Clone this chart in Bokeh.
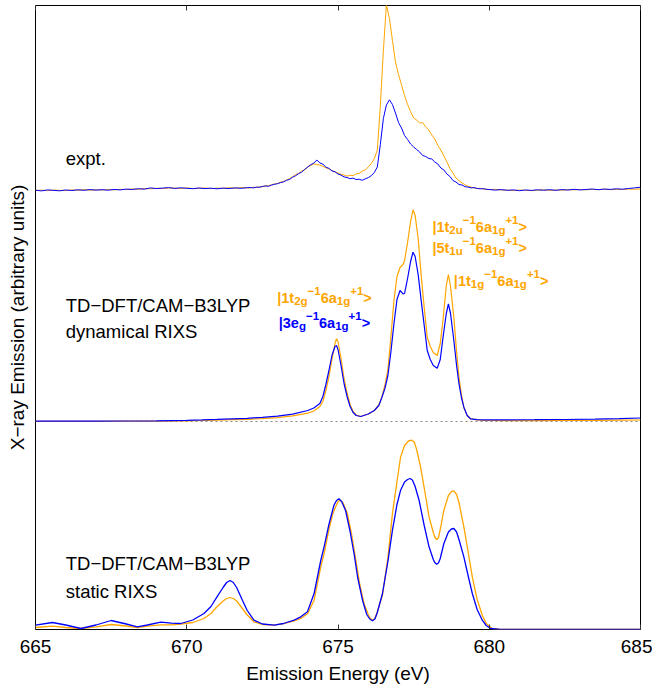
from bokeh.plotting import figure
from bokeh.models import Range1d, LinearAxis, FixedTicker, Span, Label
from bokeh.embed import file_html
from bokeh.resources import INLINE

# ---------------- data ----------------
x_ticks = [665, 670, 675, 680, 685]

# experimental spectra (intensity above the panel baseline, arbitrary units)
expt_energy_left = [665.0, 665.2, 665.4, 665.6, 665.8, 666.0, 666.2, 666.4, 666.6, 666.8,
                    667.0, 667.2, 667.4, 667.6, 667.8, 668.0, 668.2, 668.4, 668.6, 668.8,
                    669.0, 669.2, 669.4, 669.6, 669.8, 670.0, 670.2, 670.4, 670.6, 670.8,
                    671.0, 671.2, 671.4, 671.6, 671.8, 672.0]
expt_energy_mid = [672.1, 672.2, 672.3, 672.4, 672.5, 672.6, 672.7, 672.8, 672.9,
                   673.0, 673.1, 673.2, 673.3, 673.4, 673.5, 673.6, 673.7, 673.8, 673.9,
                   674.0, 674.1, 674.2, 674.3, 674.4, 674.5, 674.6, 674.7, 674.8, 674.9,
                   675.0, 675.1, 675.2, 675.3, 675.4, 675.5, 675.6, 675.7, 675.8, 675.9,
                   676.0, 676.1, 676.2, 676.3, 676.4, 676.5, 676.6, 676.7, 676.8, 676.9,
                   677.0, 677.1, 677.2, 677.3, 677.4, 677.5, 677.6, 677.7, 677.8, 677.9,
                   678.0, 678.1, 678.2, 678.3, 678.4, 678.5, 678.6, 678.7, 678.8, 678.9,
                   679.0, 679.1, 679.2, 679.3, 679.4, 679.5, 679.6, 679.7, 679.8, 679.9]
expt_energy_right = [680.0, 680.2, 680.4, 680.6, 680.8, 681.0, 681.2, 681.4, 681.6, 681.8,
                     682.0, 682.2, 682.4, 682.6, 682.8, 683.0, 683.2, 683.4, 683.6, 683.8,
                     684.0, 684.2, 684.4, 684.6, 684.8, 685.0]

expt_blue_left = [0.3, -0.4, 0.6, 0.1, -0.3, 0.5, 0.0, 0.7, 0.2, 0.9,
                  0.4, 0.8, 0.3, 1.1, 0.6, 1.4, 1.0, 1.8, 1.3, 2.6,
                  1.9, 2.4, 2.9, 2.1, 2.7, 2.2, 1.8, 2.5, 1.9, 2.3,
                  1.7, 2.4, 2.0, 2.6, 2.2, 2.8]
expt_blue_mid = [3.0, 2.6, 3.4, 3.2, 4.1, 4.5, 4.2, 5.4, 6.2,
                 6.8, 7.9, 8.6, 10.2, 11.1, 13.3, 14.8, 16.9, 18.4, 21.2,
                 23.5, 25.8, 27.4, 30.5, 27.6, 26.3, 23.4, 22.1, 19.6, 18.7,
                 16.5, 15.4, 13.6, 13.0, 11.8, 12.4, 10.9, 11.3, 10.2, 11.6,
                 12.9, 14.8, 18.0, 23.5, 46.0, 72.0, 85.5, 90.7, 86.0, 77.5,
                 68.0, 62.5, 55.0, 51.0, 46.5, 43.5, 41.0, 38.5, 35.0, 34.0,
                 32.0, 31.5, 28.5, 26.5, 22.5, 20.5, 16.5, 14.0, 10.0, 8.5,
                 6.0, 5.5, 3.8, 3.4, 2.6, 2.9, 2.1, 1.6, 1.9, 1.2]
expt_blue_right = [1.0, 0.4, 0.9, 0.2, 0.6, -0.2, 0.5, 0.1, 0.7, 0.3,
                   0.8, 0.2, 0.9, 0.5, 1.2, 0.6, 1.0, 1.5, 0.8, 1.4,
                   1.1, 1.7, 1.3, 2.0, 2.6, 3.3]

expt_orange_left = [0.0, 0.4, -0.2, 0.5, 0.2, -0.1, 0.6, 0.2, 0.8, 0.3,
                    0.7, 0.5, 1.0, 0.6, 1.2, 0.9, 1.6, 1.2, 2.0, 1.7,
                    2.3, 2.0, 2.5, 2.4, 1.9, 2.6, 2.0, 2.2, 2.5, 1.8,
                    2.4, 2.1, 2.7, 2.3, 2.9, 2.6]
expt_orange_mid = [2.6, 3.3, 2.9, 3.8, 3.6, 4.7, 4.9, 5.6, 6.6,
                   7.0, 8.4, 9.1, 10.5, 12.0, 13.8, 15.9, 17.2, 19.5, 20.6,
                   23.8, 24.9, 26.6, 26.0, 25.4, 24.2, 22.6, 21.8, 19.9, 18.6,
                   17.6, 16.1, 15.6, 14.4, 15.3, 14.8, 16.6, 17.1, 19.3, 20.5,
                   23.6, 26.9, 31.8, 40.5, 85.0, 140.0, 186.0, 172.0, 150.0, 128.5,
                   116.0, 105.5, 95.0, 86.0, 79.0, 72.5, 70.5, 67.5, 68.0, 63.5,
                   60.5, 55.5, 51.5, 45.0, 40.5, 34.5, 28.5, 22.0, 17.5, 12.5,
                   10.0, 7.5, 5.8, 4.2, 3.4, 2.5, 2.0, 2.3, 1.5, 1.3]
expt_orange_right = [0.8, 1.2, 0.5, 0.3, -0.1, 0.4, 0.2, -0.2, 0.3, 0.6,
                     0.1, 0.5, 0.3, 0.8, 0.6, 1.0, 0.7, 1.1, 0.9, 1.3,
                     0.8, 1.2, 1.0, 1.4, 1.3, 1.5]

expt_energy = expt_energy_left + expt_energy_mid + expt_energy_right
expt_blue = expt_blue_left + expt_blue_mid + expt_blue_right
expt_orange = expt_orange_left + expt_orange_mid + expt_orange_right

# dynamical RIXS (TD-DFT/CAM-B3LYP)
dyn_energy = [665.0, 666.0, 667.0, 668.0, 669.0, 670.0, 670.5, 671.0, 671.5, 672.0,
              672.5, 673.0, 673.5, 674.0, 674.2, 674.4, 674.5, 674.6, 674.7, 674.8,
              674.9, 674.95, 675.0, 675.1, 675.2, 675.3, 675.4, 675.5, 675.6, 675.75,
              676.0, 676.2, 676.35, 676.45, 676.55, 676.65, 676.75, 676.85, 676.95, 677.05,
              677.15, 677.2, 677.3, 677.4, 677.48, 677.55, 677.65, 677.75, 677.85, 677.95,
              678.05, 678.15, 678.28, 678.38, 678.48, 678.58, 678.65, 678.72, 678.83, 678.92,
              679.0, 679.08, 679.16, 679.27, 679.38, 679.6, 679.82, 680.5, 681.5, 682.5,
              683.5, 684.3, 685.0]
dyn_blue = [0.3, 0.3, 0.4, 0.5, 0.7, 1.2, 1.6, 2.1, 2.7, 3.2,
            4.2, 5.4, 7.4, 11.0, 13.5, 18.0, 25.0, 37.0, 51.0, 66.0,
            75.0, 76.0, 72.0, 56.0, 38.0, 25.0, 15.0, 9.0, 6.0, 5.0,
            7.5, 11.0, 16.0, 24.0, 33.0, 46.0, 70.0, 98.0, 122.0, 131.0,
            127.7, 128.0, 143.0, 160.0, 169.3, 165.0, 147.0, 121.0, 96.0, 71.0,
            62.0, 56.0, 53.3, 62.0, 86.0, 108.0, 117.7, 108.0, 81.0, 56.0,
            37.7, 24.0, 14.3, 6.0, 2.7, 1.8, 1.7, 1.7, 1.8, 2.0,
            2.4, 2.9, 3.5]
dyn_orange = [0.2, 0.2, 0.2, 0.3, 0.4, 0.7, 1.0, 1.4, 1.8, 2.2,
              2.9, 3.9, 5.6, 8.3, 10.5, 15.0, 20.0, 31.0, 45.0, 62.0,
              78.0, 82.7, 80.0, 63.0, 43.0, 28.5, 17.0, 10.0, 6.5, 5.0,
              7.5, 11.0, 16.5, 24.5, 36.0, 52.0, 85.0, 121.0, 145.0, 154.0,
              157.0, 161.0, 179.0, 200.0, 211.7, 206.0, 183.0, 146.0, 114.0, 84.3,
              75.0, 69.0, 66.0, 78.0, 104.0, 136.0, 147.0, 135.0, 104.0, 70.0,
              44.0, 27.0, 14.0, 6.0, 2.7, 1.6, 1.2, 0.9, 0.9, 1.0,
              1.1, 1.3, 1.5]

# static RIXS (TD-DFT/CAM-B3LYP)
stat_energy_blue = [665.0, 665.56, 666.0, 666.5, 667.0, 667.5, 668.0, 668.37, 668.7, 669.14,
                    669.5, 669.8, 670.2, 670.57, 670.8, 671.0, 671.2, 671.32, 671.43, 671.54,
                    671.65, 671.84, 672.0, 672.22, 672.5, 672.89, 673.2, 673.55, 673.77, 673.99,
                    674.21, 674.43, 674.54, 674.7, 674.82, 674.87, 674.95, 675.03, 675.12, 675.25,
                    675.4, 675.53, 675.65, 675.81, 675.95, 676.05, 676.14, 676.22, 676.3, 676.47,
                    676.65, 676.8, 676.95, 677.07, 677.2, 677.3, 677.38, 677.46, 677.55, 677.68,
                    677.85, 678.01, 678.15, 678.2, 678.26, 678.32, 678.38, 678.5, 678.65, 678.75,
                    678.83, 678.92, 679.0, 679.16, 679.3, 679.44, 679.6, 679.77, 679.9, 680.04,
                    680.37, 681.0, 685.0]
stat_blue = [4.3, 7.0, 4.5, 1.0, 4.5, 9.0, 5.5, 2.7, 4.5, 7.3,
             6.3, 6.0, 9.5, 16.0, 23.0, 32.7, 42.0, 47.0, 49.0, 47.0,
             42.0, 29.3, 19.0, 9.3, 5.5, 4.3, 6.0, 9.3, 12.7, 17.7,
             36.0, 69.0, 82.7, 105.0, 119.0, 124.5, 129.0, 130.7, 128.0, 119.0,
             98.0, 76.0, 52.0, 29.3, 15.0, 10.5, 8.7, 10.5, 17.0, 36.0,
             68.0, 99.3, 125.0, 139.3, 147.5, 150.0, 151.0, 149.5, 143.0, 129.3,
             104.0, 82.7, 70.0, 67.0, 65.3, 66.5, 71.0, 86.0, 97.5, 100.5,
             101.0, 97.5, 90.0, 72.6, 54.0, 36.0, 20.0, 9.3, 4.0, 1.0,
             0.0, 0.0, 0.0]
stat_energy_orange = [665.0, 665.56, 666.0, 666.5, 667.0, 667.5, 668.0, 668.37, 668.7, 669.14,
                      669.5, 669.8, 670.2, 670.57, 670.8, 671.0, 671.2, 671.32, 671.43, 671.54,
                      671.65, 671.84, 672.0, 672.22, 672.5, 672.89, 673.2, 673.55, 673.77, 674.0,
                      674.21, 674.43, 674.54, 674.7, 674.82, 674.87, 675.0, 675.07, 675.16, 675.31,
                      675.45, 675.59, 675.72, 675.86, 676.0, 676.07, 676.14, 676.22, 676.3, 676.47,
                      676.65, 676.8, 676.95, 677.07, 677.2, 677.33, 677.44, 677.52, 677.6, 677.73,
                      677.87, 678.01, 678.15, 678.2, 678.26, 678.32, 678.38, 678.5, 678.65, 678.75,
                      678.83, 678.92, 679.0, 679.16, 679.3, 679.44, 679.6, 679.77, 679.9, 680.09,
                      680.37, 681.0, 685.0]
stat_orange = [2.0, 3.3, 2.0, 1.0, 2.6, 5.0, 3.5, 2.0, 3.3, 4.7,
               4.6, 5.3, 7.0, 11.0, 16.0, 22.7, 28.5, 31.0, 32.0, 31.0,
               28.5, 21.0, 14.5, 7.7, 5.0, 4.3, 5.8, 8.7, 11.0, 16.0,
               29.3, 62.7, 76.0, 100.0, 115.0, 119.0, 128.0, 129.3, 127.0, 116.0,
               95.0, 69.3, 45.0, 26.0, 15.0, 11.0, 9.3, 11.0, 18.0, 34.3,
               72.0, 116.0, 148.0, 172.6, 184.0, 188.5, 189.3, 187.5, 180.0, 162.6,
               138.0, 112.6, 97.0, 92.5, 90.0, 91.5, 100.0, 119.3, 134.0, 137.8,
               138.6, 135.0, 127.0, 102.6, 78.0, 52.6, 30.0, 14.3, 6.0, 1.0,
               0.0, 0.0, 0.0]

# vertical offsets of the three stacked panels
offset_static = 0.0
offset_dyn = 208.0
offset_expt = 439.0

y_title = "X\u2212ray Emission (arbitrary units)"
x_title = "Emission Energy (eV)"

panel_labels = [("expt.", 666.0, offset_expt + 32),
                ("TD\u2212DFT/CAM\u2212B3LYP", 666.0, offset_dyn + 116),
                ("dynamical RIXS", 666.0, offset_dyn + 90),
                ("TD\u2212DFT/CAM\u2212B3LYP", 666.0, offset_static + 66),
                ("static RIXS", 666.0, offset_static + 38)]

state_labels = [
    ("orange", 672.99, offset_dyn + 124, [("|1t", "n"), ("2g", "sub"), ("\u22121", "sup"), ("6a", "n"), ("1g", "sub"), ("+1", "sup"), (">", "n")]),
    ("blue", 673.04, offset_dyn + 99, [("|3e", "n"), ("g", "sub"), ("\u22121", "sup"), ("6a", "n"), ("1g", "sub"), ("+1", "sup"), (">", "n")]),
    ("orange", 678.12, offset_dyn + 195, [("|1t", "n"), ("2u", "sub"), ("\u22121", "sup"), ("6a", "n"), ("1g", "sub"), ("+1", "sup"), (">", "n")]),
    ("orange", 678.12, offset_dyn + 174, [("|5t", "n"), ("1u", "sub"), ("\u22121", "sup"), ("6a", "n"), ("1g", "sub"), ("+1", "sup"), (">", "n")]),
    ("orange", 678.83, offset_dyn + 141, [("|1t", "n"), ("1g", "sub"), ("\u22121", "sup"), ("6a", "n"), ("1g", "sub"), ("+1", "sup"), (">", "n")]),
]

ORANGE = "#FFA500"
BLUE = "#0000FF"
FONT = "Liberation Sans"

# ---------------- figure ----------------
p = figure(width=652, height=690, output_backend="svg", toolbar_location=None,
           x_range=Range1d(665, 685), y_range=Range1d(0, 624),
           min_border_left=35, min_border_right=12, min_border_top=5, min_border_bottom=61)
p.xgrid.visible = False
p.ygrid.visible = False
p.outline_line_color = "black"
p.outline_line_width = 1
p.outline_line_alpha = 1.0
p.background_fill_color = "white"
p.border_fill_color = "white"

xa = p.xaxis[0]
xa.ticker = FixedTicker(ticks=x_ticks)
xa.major_tick_in = 5
xa.major_tick_out = 0
xa.major_tick_line_color = "#333333"
xa.minor_tick_line_color = None
xa.axis_line_color = None
xa.major_label_text_font = FONT
xa.major_label_text_font_size = "19px"
xa.major_label_text_color = "black"
xa.major_label_standoff = 10
xa.axis_label = x_title
xa.axis_label_text_font = FONT
xa.axis_label_text_font_size = "19px"
xa.axis_label_text_font_style = "normal"
xa.axis_label_text_color = "black"
xa.axis_label_standoff = 7

ya = p.yaxis[0]
ya.ticker = FixedTicker(ticks=[])
ya.axis_line_color = None
ya.major_tick_line_color = None
ya.minor_tick_line_color = None
ya.major_label_standoff = 0
ya.axis_label = y_title
ya.axis_label_text_font = FONT
ya.axis_label_text_font_size = "19px"
ya.axis_label_text_font_style = "normal"
ya.axis_label_text_color = "black"
ya.axis_label_standoff = 8

top = LinearAxis(ticker=FixedTicker(ticks=x_ticks), axis_line_color=None,
                 major_tick_in=5, major_tick_out=0, major_tick_line_color="#333333",
                 minor_tick_line_color=None, major_label_standoff=0,
                 major_label_overrides={t: "" for t in x_ticks})
p.add_layout(top, "above")

# dotted baseline of the dynamical panel
p.add_layout(Span(location=offset_dyn, dimension="width", line_color="#888888",
                  line_width=1, line_dash="2 3", level="underlay"))

def shifted(vals, off):
    return [v + off for v in vals]

# static
p.line(stat_energy_orange, shifted(stat_orange, offset_static), line_color=ORANGE, line_width=1.3)
p.line(stat_energy_blue, shifted(stat_blue, offset_static), line_color=BLUE, line_width=1.3)
# dynamical
p.line(dyn_energy, shifted(dyn_orange, offset_dyn), line_color=ORANGE, line_width=1.2)
p.line(dyn_energy, shifted(dyn_blue, offset_dyn), line_color=BLUE, line_width=1.2)
# experiment
p.line(expt_energy, shifted(expt_orange, offset_expt), line_color=ORANGE, line_width=1.0)
p.line(expt_energy, shifted(expt_blue, offset_expt), line_color=BLUE, line_width=1.0)

for txt, xx, yy in panel_labels:
    p.add_layout(Label(x=xx, y=yy, text=txt, text_font=FONT, text_font_size="18.5px",
                       text_color="black", text_baseline="alphabetic"))

# rich-text state labels (sub/superscripts as separate pieces)
WIDTHS = {'|': 0.280, '>': 0.584, '\u2212': 0.584, '+': 0.584, 't': 0.333, 'g': 0.611,
          'u': 0.611, 'e': 0.556, 'a': 0.556}
MAIN = 14.5
SMALL = 11.5
for color, xx, yy, segs in state_labels:
    dx = 0.0
    col = ORANGE if color == "orange" else BLUE
    for txt, kind in segs:
        size = MAIN if kind == "n" else SMALL
        dy = 0.0 if kind == "n" else (-0.27 * MAIN if kind == "sub" else 0.42 * MAIN)
        p.add_layout(Label(x=xx, y=yy, x_offset=dx, y_offset=dy, text=txt,
                           text_font=FONT, text_font_size=f"{size}px", text_font_style="bold",
                           text_color=col, text_baseline="alphabetic"))
        dx += sum(WIDTHS.get(c, 0.556) for c in txt) * size

open("out.html", "w").write(file_html(p, INLINE))
